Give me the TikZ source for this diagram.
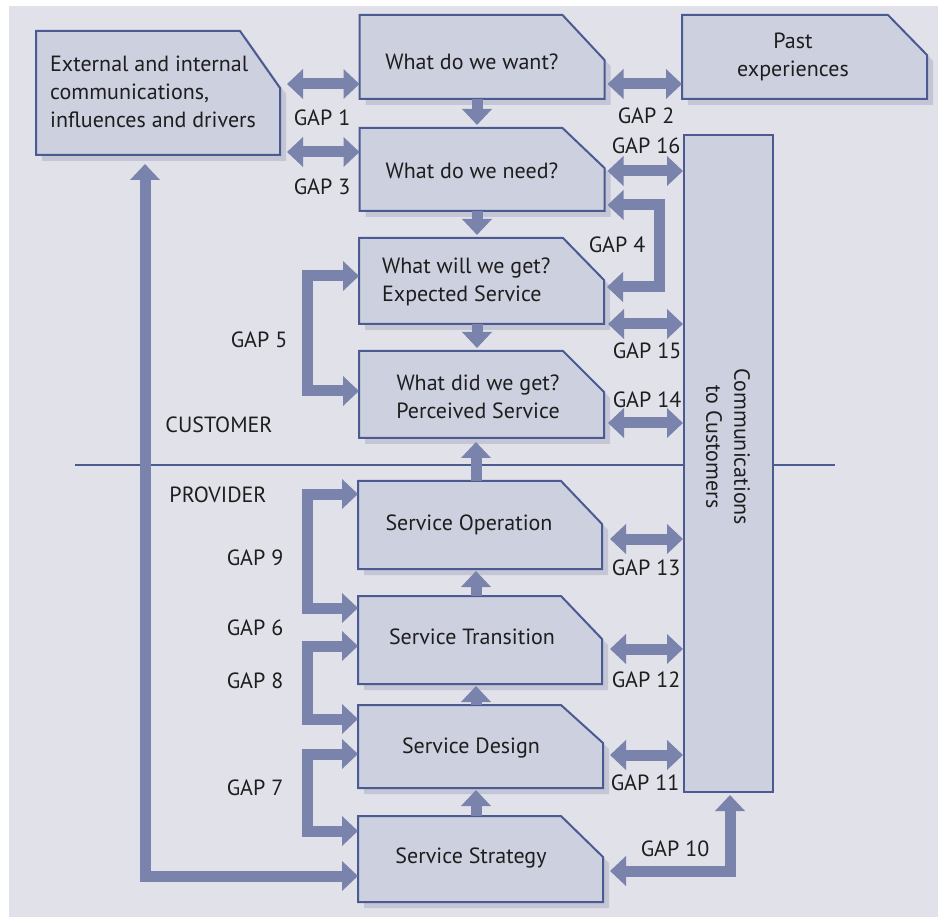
\documentclass[tikz,border=0pt]{standalone}
\usepackage{fontspec}
\setmainfont{PT Sans}
\usetikzlibrary{arrows.meta,calc}
\definecolor{bgc}{HTML}{E1E1EA}
\definecolor{boxfill}{HTML}{CDD0DF}
\definecolor{boxline}{HTML}{4B5B92}
\definecolor{shadowc}{HTML}{C4C6D6}
\definecolor{arrowc}{HTML}{7A83AC}
\definecolor{textc}{HTML}{1E1E1E}
\newcommand\cutoutline[3]{%
  \fill[shadowc] ([xshift=6pt,yshift=-6pt]#1.south west) -- ([xshift=6pt,yshift=-6pt]#1.north west) -- ([xshift={6pt-#2pt},yshift=-6pt]#1.north east) -- ([xshift=6pt,yshift={-6pt-#3pt}]#1.north east) -- ([xshift=6pt,yshift=-6pt]#1.south east) -- cycle;
  \filldraw[fill=boxfill, draw=boxline, line width=2pt, line join=miter] (#1.south west) -- (#1.north west) -- ([xshift=-#2pt]#1.north east) -- ([yshift=-#3pt]#1.north east) -- (#1.south east) -- cycle;
}
\tikzset{
  boxbase/.style={draw=none, inner sep=0pt, outer sep=0pt, rectangle},
  txt/.style={font=\fontsize{22}{28}\selectfont, text=textc, inner sep=0pt},
  gaptwo/.style={draw=arrowc, line width=11pt, line join=miter,
    {Triangle[width=29pt,length=16pt]}-{Triangle[width=29pt,length=16pt]}},
  gapone/.style={draw=arrowc, line width=11pt, -{Triangle[width=29pt,length=16pt]}},
}
\begin{document}
\begin{tikzpicture}[x=1pt,y=-1pt]
\useasboundingbox (0,0) rectangle (938,917);
\fill[white] (0,0) rectangle (938,917);
\fill[bgc] (9,6) rectangle (938,917);
% separator
\coordinate (sepL) at (75,465);
\coordinate (sepR) at (835,465);
\draw[boxline, line width=2.5pt] (sepL) -- (sepR);

% box placeholders
\node[boxbase, minimum width=244pt, minimum height=124pt] (ext) at (158,93) {};
\node[boxbase, minimum width=245pt, minimum height=84pt] (want) at (482,57) {};
\node[boxbase, minimum width=245pt, minimum height=84pt] (past) at (804.5,57) {};
\node[boxbase, minimum width=245pt, minimum height=83pt] (need) at (482,169.5) {};
\node[boxbase, minimum width=245pt, minimum height=86pt] (will) at (481.5,281) {};
\node[boxbase, minimum width=245pt, minimum height=87pt] (did) at (481.5,394.5) {};
\node[boxbase, minimum width=244pt, minimum height=88pt] (oper) at (480,525) {};
\node[boxbase, minimum width=244pt, minimum height=88pt] (trans) at (480,640) {};
\node[boxbase, minimum width=245pt, minimum height=83pt] (design) at (480.5,746.5) {};
\node[boxbase, minimum width=245pt, minimum height=86pt] (strat) at (480.5,859) {};

\cutoutline{ext}{40}{57}
\cutoutline{want}{42}{45}
\cutoutline{past}{39}{40}
\cutoutline{need}{42}{40}
\cutoutline{will}{41}{42}
\cutoutline{did}{41}{41}
\cutoutline{oper}{41}{43}
\cutoutline{trans}{41}{43}
\cutoutline{design}{42}{38}
\cutoutline{strat}{42}{41}

\node[draw=boxline, fill=boxfill, line width=2pt, inner sep=0pt, minimum width=89pt, minimum height=657pt] (comm) at (728.5,463.5) {};

% gap arrows
\draw[gaptwo] ($(ext.east|-0,84)+(7,0)$) -- (want.west|-0,84);
\draw[gaptwo] ($(ext.east|-0,152)+(7,0)$) -- (need.west|-0,152);
\draw[gaptwo] ($(want.east|-0,84)+(3,0)$) -- (past.west|-0,84);
\draw[gaptwo] ($(need.east|-0,171)+(3,0)$) -- (comm.west|-0,171);
\draw[gaptwo] ($(need.east|-0,205)+(3,0)$) -- (659,205) -- (659,287) -- ($(will.east|-0,287)+(3,0)$);
\draw[gaptwo] ($(will.east|-0,324)+(4,0)$) -- (comm.west|-0,324);
\draw[gaptwo] ($(did.east|-0,423)+(4,0)$) -- (comm.west|-0,423);
\draw[gaptwo] ($(oper.east|-0,539)+(8,0)$) -- (comm.west|-0,539);
\draw[gaptwo] ($(trans.east|-0,649)+(8,0)$) -- (comm.west|-0,649);
\draw[gaptwo] ($(design.east|-0,755)+(7,0)$) -- (comm.west|-0,755);
\draw[gaptwo] ($(strat.east|-0,871)+(7,0)$) -| ($(730,0|-comm.south)+(0,2)$);
\draw[gaptwo] ($(145,0|-ext.south)+(0,9)$) |- (strat.west|-0,876);
% brackets
\draw[gaptwo] (will.west|-0,276) -- (307,276) -- (307,391) -- (did.west|-0,391);
\draw[gaptwo] (oper.west|-0,494) -- (307,494) -- (307,608) -- (trans.west|-0,608);
\draw[gaptwo] (trans.west|-0,646) -- (307,646) -- (307,719) -- (design.west|-0,719);
\draw[gaptwo] (design.west|-0,754) -- (307,754) -- (307,831) -- (strat.west|-0,831);
% flow arrows
\draw[gapone] (want.south-|477,0) -- ($(need.north-|477,0)+(0,-3)$);
\draw[gapone] (need.south-|477,0) -- ($(will.north-|477,0)+(0,-3)$);
\draw[gapone] (will.south-|477,0) -- ($(did.north-|477,0)+(0,-3)$);
\draw[gapone] (strat.north-|476,0) -- ($(design.south-|476,0)+(0,2)$);
\draw[gapone] (design.north-|476,0) -- ($(trans.south-|476,0)+(0,2)$);
\draw[gapone] (trans.north-|476,0) -- ($(oper.south-|476,0)+(0,2)$);
\draw[gapone] (oper.north-|476,0) -- ($(did.south-|476,0)+(0,4)$);

% box texts
\node[txt, align=left, anchor=west] (extt) at (50,92) {External and internal\\communications,\\influences and drivers};
\node[txt] (wantt) at (472,62) {What do we want?};
\node[txt, align=center] (pastt) at (793,57) {Past\\experiences};
\node[txt] (needt) at (472,171) {What do we need?};
\node[txt, align=left, anchor=west] (willt) at (382,282) {What will we get?\\Expected Service};
\node[txt, align=center] (didt) at (478,397) {What did we get?\\Perceived Service};
\node[txt] (opert) at (469,525) {Service Operation};
\node[txt] (transt) at (472,637) {Service Transition};
\node[txt] (designt) at (471,748) {Service Design};
\node[txt] (stratt) at (471,858) {Service Strategy};
\node[txt, align=center, rotate=-90] (commt) at (728,447) {Communications\\to Customers};
\node[txt] (cust) at (219,425) {CUSTOMER};
\node[txt] (prov) at (218,495) {PROVIDER};

% gap labels
\node[txt] (g1) at (322,118) {GAP 1};
\node[txt] (g3) at (322,187) {GAP 3};
\node[txt] (g2) at (646,116) {GAP 2};
\node[txt] (g16) at (646,146) {GAP 16};
\node[txt] (g4) at (617,245) {GAP 4};
\node[txt] (g5) at (259,340) {GAP 5};
\node[txt] (g15) at (647,351) {GAP 15};
\node[txt] (g14) at (647,400) {GAP 14};
\node[txt] (g13) at (646,568) {GAP 13};
\node[txt] (g12) at (646,680) {GAP 12};
\node[txt] (g11) at (645,783) {GAP 11};
\node[txt] (g10) at (675,849) {GAP 10};
\node[txt] (g9) at (255,558) {GAP 9};
\node[txt] (g6) at (255,628) {GAP 6};
\node[txt] (g8) at (255,681) {GAP 8};
\node[txt] (g7) at (255,788) {GAP 7};
\end{tikzpicture}
\end{document}
